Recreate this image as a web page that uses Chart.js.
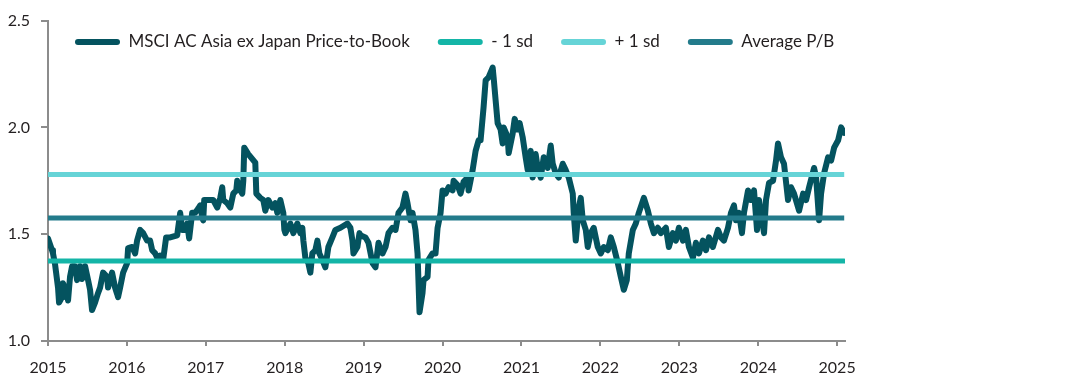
<!DOCTYPE html>
<html>
<head>
<meta charset="utf-8">
<script src="https://cdn.jsdelivr.net/npm/chart.js@4/dist/chart.umd.min.js"></script>
<style>
html,body{margin:0;padding:0;background:#fff;}
#wrap{width:1092px;height:380px;position:relative;}
</style>
</head>
<body>
<div id="wrap"><canvas id="c"></canvas></div>
<script>
const seriesNames = ["MSCI AC Asia ex Japan Price-to-Book", "- 1 sd", "+ 1 sd", "Average P/B"];
const yearTicks = [2015,2016,2017,2018,2019,2020,2021,2022,2023,2024,2025];
const years = [
2015.000,2015.051,2015.063,2015.089,2015.127,2015.140,2015.178,2015.190,2015.241,2015.254,2015.279,2015.305,2015.343,2015.368,2015.406,2015.431,2015.470,2015.508,2015.533,2015.558,2015.596,2015.635,2015.660,2015.698,2015.749,2015.761,2015.812,2015.850,2015.876,2015.888,2015.914,2015.952,
2016.003,2016.015,2016.066,2016.104,2016.129,2016.168,2016.206,2016.256,2016.294,2016.320,2016.358,2016.396,2016.421,2016.459,2016.497,2016.548,2016.637,2016.675,2016.701,2016.739,2016.764,2016.789,2016.827,2016.865,2016.904,2016.929,2016.954,2016.967,2016.980,
2017.030,2017.094,2017.145,2017.183,2017.208,2017.221,2017.272,2017.310,2017.348,2017.386,2017.398,2017.437,2017.462,2017.475,2017.487,2017.538,2017.627,2017.640,2017.690,2017.728,2017.754,2017.792,2017.843,2017.881,2017.906,2017.944,2017.982,2017.995,
2018.008,2018.071,2018.109,2018.160,2018.198,2018.223,2018.236,2018.261,2018.299,2018.325,2018.350,2018.388,2018.414,2018.439,2018.477,2018.515,2018.553,2018.604,2018.642,2018.706,2018.794,2018.832,2018.858,2018.871,2018.921,2018.947,2018.959,
2019.023,2019.061,2019.112,2019.150,2019.188,2019.239,2019.277,2019.315,2019.365,2019.404,2019.442,2019.492,2019.530,2019.556,2019.594,2019.619,2019.657,2019.683,2019.708,2019.746,2019.759,2019.810,2019.822,2019.873,2019.911,2019.937,2019.975,
2020.000,2020.038,2020.076,2020.127,2020.140,2020.190,2020.228,2020.266,2020.317,2020.330,2020.381,2020.419,2020.457,2020.482,2020.520,2020.546,2020.584,2020.635,2020.647,2020.673,2020.698,2020.736,2020.761,2020.774,2020.825,2020.838,2020.888,2020.914,2020.952,2020.977,
2021.015,2021.053,2021.079,2021.117,2021.142,2021.180,2021.206,2021.244,2021.282,2021.332,2021.371,2021.396,2021.434,2021.472,2021.523,2021.561,2021.599,2021.650,2021.662,2021.688,2021.726,2021.751,2021.777,2021.815,2021.840,2021.878,2021.916,2021.967,
2022.005,2022.043,2022.094,2022.132,2022.170,2022.221,2022.259,2022.297,2022.335,2022.360,2022.411,2022.449,2022.487,2022.551,2022.602,2022.640,2022.678,2022.728,2022.766,2022.830,2022.868,2022.919,2022.957,2022.995,
2023.046,2023.084,2023.122,2023.173,2023.211,2023.249,2023.299,2023.338,2023.376,2023.426,2023.490,2023.528,2023.566,2023.617,2023.655,2023.693,2023.718,2023.756,2023.794,2023.820,2023.871,2023.909,2023.947,2023.985,
2024.010,2024.074,2024.099,2024.137,2024.188,2024.226,2024.251,2024.289,2024.327,2024.378,2024.416,2024.454,2024.518,2024.569,2024.607,2024.645,2024.708,2024.734,2024.772,2024.797,2024.835,2024.886,2024.924,2024.962,
2025.013,2025.051,2025.089
];
const priceToBook = [
1.48,1.425,1.41,1.36,1.25,1.18,1.205,1.27,1.22,1.19,1.30,1.35,1.35,1.285,1.35,1.29,1.35,1.285,1.24,1.145,1.18,1.225,1.25,1.32,1.30,1.25,1.32,1.25,1.22,1.205,1.25,1.32,
1.365,1.435,1.44,1.41,1.47,1.52,1.505,1.47,1.47,1.425,1.41,1.38,1.40,1.38,1.485,1.485,1.495,1.60,1.52,1.52,1.55,1.48,1.60,1.60,1.62,1.635,1.58,1.565,1.66,
1.66,1.66,1.625,1.67,1.72,1.66,1.645,1.625,1.69,1.705,1.75,1.705,1.69,1.75,1.905,1.875,1.835,1.69,1.67,1.66,1.61,1.66,1.625,1.645,1.60,1.66,1.60,1.52,
1.505,1.55,1.505,1.55,1.505,1.53,1.47,1.39,1.365,1.32,1.41,1.425,1.47,1.41,1.38,1.345,1.44,1.485,1.52,1.53,1.55,1.53,1.47,1.41,1.44,1.505,1.495,
1.485,1.46,1.365,1.345,1.46,1.41,1.44,1.505,1.53,1.52,1.60,1.625,1.69,1.645,1.565,1.60,1.52,1.41,1.135,1.225,1.285,1.30,1.38,1.41,1.41,1.53,1.60,
1.705,1.69,1.72,1.705,1.75,1.73,1.69,1.745,1.765,1.705,1.80,1.89,1.94,1.94,2.095,2.22,2.235,2.28,2.235,2.125,2.02,1.99,1.925,2.00,1.955,1.88,1.97,2.04,1.99,2.02,
1.955,1.86,1.80,1.89,1.765,1.875,1.81,1.765,1.86,1.81,1.915,1.83,1.785,1.765,1.83,1.80,1.765,1.69,1.60,1.47,1.625,1.67,1.565,1.52,1.44,1.505,1.53,1.44,
1.41,1.44,1.425,1.485,1.44,1.365,1.30,1.24,1.285,1.41,1.52,1.55,1.60,1.67,1.61,1.55,1.505,1.53,1.505,1.53,1.44,1.505,1.47,1.53,
1.47,1.52,1.44,1.39,1.46,1.41,1.47,1.425,1.485,1.44,1.52,1.485,1.47,1.53,1.60,1.635,1.565,1.60,1.505,1.60,1.705,1.66,1.705,1.52,
1.66,1.505,1.66,1.74,1.75,1.845,1.925,1.86,1.83,1.66,1.72,1.69,1.61,1.69,1.66,1.72,1.81,1.765,1.565,1.69,1.785,1.86,1.845,1.905,
1.94,2.00,1.975
];
const minusOneSd = 1.374;
const plusOneSd = 1.78;
const averagePB = 1.576;
const xStart = 2015;
const xEnd = 2025.09;

const mainData = years.map((t,i)=>({x:t, y:priceToBook[i]}));
const flat = v => [{x:xStart,y:v},{x:xEnd,y:v}];

const colors = ["#04535f", "#14b5a7", "#66d4d7", "#237b8b"];
const FONT = "Lato";
const TEXT = "#231f20";
const LEGEND_PAD = 28;

// keep the library's legend, but let it float inside the plot area (horizontal row)
const legendInPlot = {
  id: 'legendInPlot',
  beforeLayout(chart) {
    const lg = chart.legend;
    if (lg && !lg._wrappedFit) {
      const orig = lg.fit.bind(lg);
      lg.fit = function(){ orig(); this._realH = this.height; this.height = 0; };
      lg._wrappedFit = true;
    }
  },
  afterLayout(chart) {
    const lg = chart.legend;
    if (!lg) return;
    lg.left = 75 - LEGEND_PAD; lg.right = 1092; lg.width = lg.right - lg.left;
    lg.top = 42 - LEGEND_PAD - 8.5; lg.height = lg._realH || 60; lg.bottom = lg.top + lg.height;
  }
};

new Chart(document.getElementById('c'), {
  type: 'line',
  data: {
    datasets: [
      {label: seriesNames[0], data: mainData, borderColor: colors[0], backgroundColor: colors[0], borderWidth: 6, pointRadius: 0, tension: 0, borderJoinStyle: 'round', borderCapStyle: 'round', order: 2},
      {label: seriesNames[1], data: flat(minusOneSd), borderColor: colors[1], backgroundColor: colors[1], borderWidth: 5, pointRadius: 0, borderCapStyle: 'round', order: 1},
      {label: seriesNames[2], data: flat(plusOneSd), borderColor: colors[2], backgroundColor: colors[2], borderWidth: 5, pointRadius: 0, order: 1},
      {label: seriesNames[3], data: flat(averagePB), borderColor: colors[3], backgroundColor: colors[3], borderWidth: 5, pointRadius: 0, order: 1}
    ]
  },
  plugins: [legendInPlot],
  options: {
    responsive: true,
    maintainAspectRatio: false,
    animation: false,
    layout: {padding: {top: 12, right: 247, bottom: 0, left: 2}},
    plugins: {
      tooltip: {enabled: false},
      legend: {
        position: 'top',
        align: 'start',
        labels: {
          font: {family: FONT, size: 17},
          color: TEXT,
          boxWidth: 45,
          boxHeight: 6,
          padding: LEGEND_PAD,
          useBorderRadius: true,
          borderRadius: 3,
          generateLabels: (chart) => chart.data.datasets.map((d,i)=>({
            text: d.label, fillStyle: d.borderColor, strokeStyle: d.borderColor, lineWidth: 0,
            borderRadius: 3, datasetIndex: i, hidden: false, fontColor: TEXT
          }))
        }
      }
    },
    scales: {
      x: {
        type: 'linear',
        min: xStart,
        max: 2025.1,
        afterBuildTicks: (axis) => { axis.ticks = yearTicks.map(v=>({value:v})); },
        afterFit: (scale) => { scale.height = 39; },
        ticks: {
          font: {family: FONT, size: 16},
          color: TEXT,
          padding: 12,
          maxRotation: 0,
          callback: (v) => String(v)
        },
        grid: {display: true, drawOnChartArea: false, drawTicks: true, tickLength: 5, color: '#8c8c8c', lineWidth: 2},
        border: {display: true, color: '#8c8c8c', width: 2}
      },
      y: {
        min: 1.0,
        max: 2.5,
        afterFit: (scale) => { scale.width = 46; },
        ticks: {
          stepSize: 0.5,
          font: {family: FONT, size: 16},
          color: TEXT,
          padding: 11,
          callback: (v) => Number(v).toFixed(1)
        },
        grid: {display: true, drawOnChartArea: false, drawTicks: true, tickLength: 7, color: '#8c8c8c', lineWidth: 2},
        border: {display: true, color: '#8c8c8c', width: 2}
      }
    }
  }
});
</script>
</body>
</html>
